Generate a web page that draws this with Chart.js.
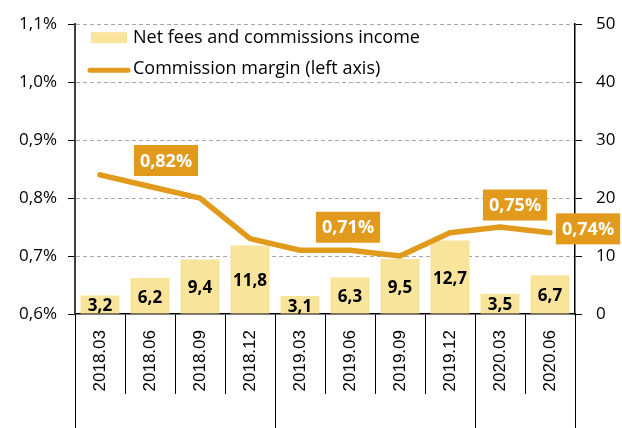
<!DOCTYPE html>
<html>
<head>
<meta charset="utf-8">
<script src="https://cdn.jsdelivr.net/npm/chart.js@4/dist/chart.umd.min.js"></script>
<style>
  html, body { margin: 0; padding: 0; background: #fff; }
  #wrap { width: 622px; height: 428px; }
</style>
</head>
<body>
<div id="wrap"><canvas id="chart" width="622" height="428"></canvas></div>
<script>
// quarters on the x axis
const quarters = [
  '2018.03', '2018.06', '2018.09', '2018.12',
  '2019.03', '2019.06', '2019.09', '2019.12',
  '2020.03', '2020.06',
];

// net fees and commissions income (right axis)
const feesIncome = [3.2, 6.2, 9.4, 11.8, 3.1, 6.3, 9.5, 12.7, 3.5, 6.7];

// commission margin, % (left axis)
const commissionMargin = [0.84, 0.82, 0.80, 0.73, 0.71, 0.71, 0.70, 0.74, 0.75, 0.74];

// which margin points carry a value box
const marginLabelIdx = [1, 5, 8, 9];

const BAR_COLOUR = '#F9E49B';
const LINE_COLOUR = '#E29A1D';
const FONT = "'Open Sans', Lato, sans-serif";

const comma = (v, d) => v.toFixed(d).replace('.', ',');

// box offsets from the point (centre of box), in px
const BOX_OFFSETS = {
  1: [16, -26],
  5: [-2, -23],
  8: [15, -22],
  9: [38, -4],
};

const labelsPlugin = {
  id: 'labels',
  afterDatasetsDraw(chart) {
    const ctx = chart.ctx;
    const barMeta = chart.getDatasetMeta(1);
    const lineMeta = chart.getDatasetMeta(0);

    ctx.save();
    // bar values, centred in the bar
    ctx.font = 'bold 17px ' + FONT;
    ctx.fillStyle = '#000';
    ctx.textAlign = 'center';
    ctx.textBaseline = 'middle';
    barMeta.data.forEach((bar, i) => {
      const { x, y, base } = bar.getProps(['x', 'y', 'base'], true);
      ctx.fillText(comma(feesIncome[i], 1), x, (y + base) / 2 + 2);
    });

    // margin value boxes
    ctx.font = 'bold 18px ' + FONT;
    marginLabelIdx.forEach(i => {
      const pt = lineMeta.data[i];
      const [dx, dy] = BOX_OFFSETS[i] || [0, -24];
      const cx = pt.x + dx;
      const cy = pt.y + dy;
      const txt = comma(commissionMargin[i], 2) + '%';
      const w = ctx.measureText(txt).width + 12;
      const h = 31;
      ctx.fillStyle = LINE_COLOUR;
      ctx.fillRect(cx - w / 2, cy - h / 2, w, h);
      ctx.fillStyle = '#fff';
      ctx.fillText(txt, cx, cy + 1);
    });
    ctx.restore();
  },
  afterDraw(chart) {
    const ctx = chart.ctx;
    const xs = chart.scales.x;
    const area = chart.chartArea;
    const half = (xs.getPixelForValue(1) - xs.getPixelForValue(0)) / 2;

    // year group separators reaching to the bottom edge
    ctx.save();
    ctx.strokeStyle = '#000';
    ctx.lineWidth = 1;
    ctx.beginPath();
    quarters.forEach((q, i) => {
      if (i === 0 || q.slice(0, 4) !== quarters[i - 1].slice(0, 4)) {
        const x = Math.round(xs.getPixelForValue(i) - half) + 0.5;
        ctx.moveTo(x, area.bottom);
        ctx.lineTo(x, chart.height);
      }
    });
    const xe = Math.round(xs.getPixelForValue(quarters.length - 1) + half) + 0.5;
    ctx.moveTo(xe, area.bottom);
    ctx.lineTo(xe, chart.height);
    ctx.stroke();

    // legend inside the plot area
    const lx = area.left + 13;
    ctx.font = '18px ' + FONT;
    ctx.textAlign = 'left';
    ctx.textBaseline = 'middle';
    ctx.fillStyle = BAR_COLOUR;
    ctx.fillRect(lx + 3, area.top + 8, 36, 11);
    ctx.fillStyle = '#000';
    ctx.fillText(chart.data.datasets[1].label, lx + 45, area.top + 14);

    ctx.strokeStyle = LINE_COLOUR;
    ctx.lineWidth = 5;
    ctx.lineCap = 'round';
    ctx.beginPath();
    ctx.moveTo(lx + 2, area.top + 46);
    ctx.lineTo(lx + 40, area.top + 46);
    ctx.stroke();
    ctx.fillText(chart.data.datasets[0].label, lx + 45, area.top + 45);
    ctx.restore();
  },
};

new Chart(document.getElementById('chart'), {
  type: 'bar',
  data: {
    labels: quarters,
    datasets: [
      {
        type: 'line',
        label: 'Commission margin (left axis)',
        data: commissionMargin,
        yAxisID: 'y',
        borderColor: LINE_COLOUR,
        borderWidth: 5.5,
        borderCapStyle: 'round',
        borderJoinStyle: 'round',
        pointRadius: 0,
        tension: 0,
        fill: false,
        order: 0,
      },
      {
        type: 'bar',
        label: 'Net fees and commissions income',
        data: feesIncome,
        yAxisID: 'y1',
        backgroundColor: BAR_COLOUR,
        barPercentage: 0.78,
        categoryPercentage: 1,
        order: 1,
      },
    ],
  },
  options: {
    responsive: false,
    animation: false,
    layout: { padding: { top: 24 } },
    plugins: {
      legend: { display: false },
      tooltip: { enabled: false },
    },
    scales: {
      x: {
        type: 'category',
        offset: true,
        afterFit(s) { s.height = 114; },
        grid: {
          offset: true,
          drawOnChartArea: false,
          drawTicks: true,
          tickLength: 80,
          tickColor: '#000',
          tickWidth: 1,
        },
        border: { display: true, color: '#000', width: 1.5 },
        ticks: {
          minRotation: 90,
          maxRotation: 90,
          autoSkip: false,
          padding: -64,
          color: '#000',
          font: { family: "'Liberation Sans', Arial, sans-serif", size: 17 },
        },
      },
      y: {
        position: 'left',
        min: 0.6,
        max: 1.1,
        afterFit(s) { s.width = 75; },
        grid: {
          color: c => (c.index === 0 ? 'rgba(0,0,0,0)' : '#A6A6A6'),
          tickColor: '#000',
          tickLength: 7,
          lineWidth: 1,
        },
        border: { display: true, color: '#404040', width: 2, dash: [4, 3] },
        ticks: {
          stepSize: 0.1,
          padding: 11,
          color: '#000',
          font: { family: FONT, size: 17 },
          callback: v => comma(v, 1) + '%',
        },
      },
      y1: {
        position: 'right',
        min: 0,
        max: 50,
        afterFit(s) { s.width = 47; },
        grid: {
          drawOnChartArea: false,
          tickColor: '#000',
          tickLength: 7,
        },
        border: { display: true, color: '#000', width: 1.5 },
        ticks: {
          stepSize: 10,
          padding: 14,
          color: '#000',
          font: { family: FONT, size: 17 },
        },
      },
    },
  },
  plugins: [labelsPlugin],
});
</script>
</body>
</html>
